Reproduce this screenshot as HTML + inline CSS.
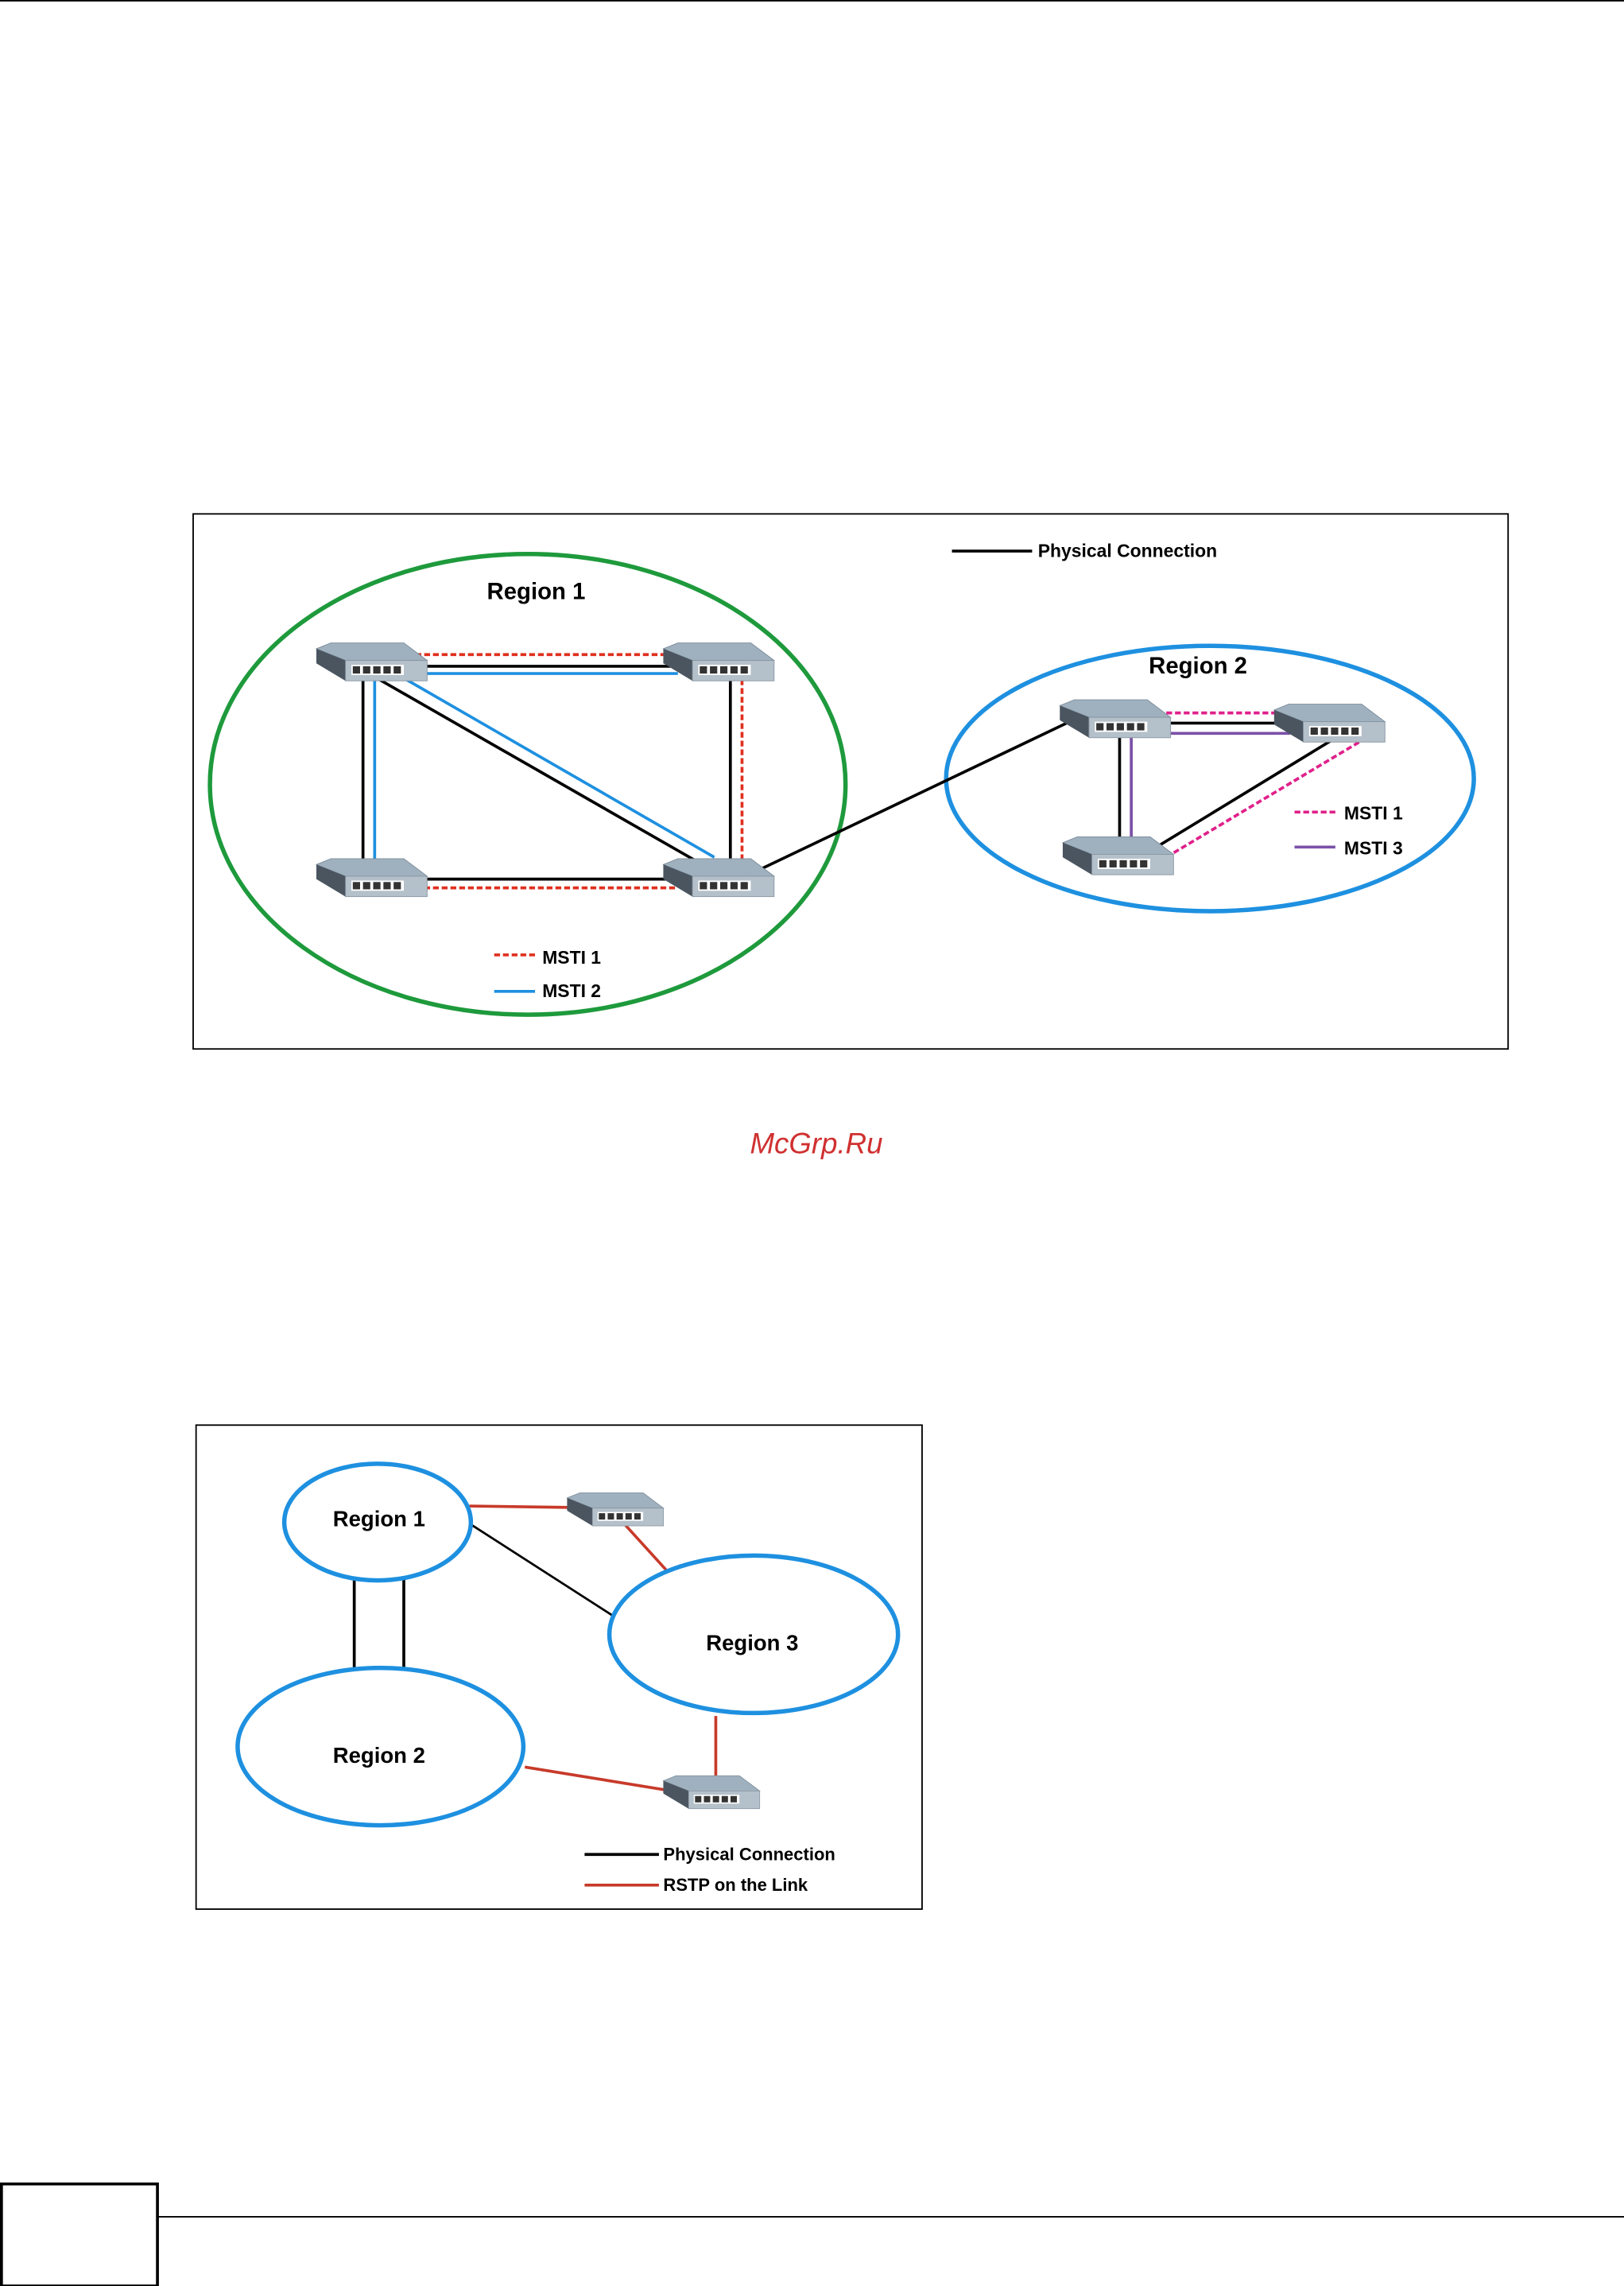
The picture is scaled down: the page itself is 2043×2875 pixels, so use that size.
<!DOCTYPE html>
<html><head><meta charset="utf-8"><style>
html,body{margin:0;padding:0;background:#fff;}
svg{display:block;}
text{font-family:"Liberation Sans",Arial,sans-serif;font-weight:bold;}
</style></head><body>
<svg width="2043" height="2875" viewBox="0 0 1114 1568" preserveAspectRatio="none" xmlns="http://www.w3.org/2000/svg">
<defs>
<g id="sw">
<polygon points="0,4 10,0 60,0 76,12 20,12" fill="#9fb0bf" stroke="#7d8d9a" stroke-width="0.5"/>
<polygon points="0,4 20,12 20,26 0,14" fill="#4a5560"/>
<rect x="20" y="12" width="56" height="14" fill="#b4c0ca" stroke="#8896a2" stroke-width="0.5"/>
<rect x="24" y="15" width="36" height="7" fill="#fff"/>
<rect x="25" y="16" width="5" height="5" fill="#333"/>
<rect x="32" y="16" width="5" height="5" fill="#333"/>
<rect x="39" y="16" width="5" height="5" fill="#333"/>
<rect x="46" y="16" width="5" height="5" fill="#333"/>
<rect x="53" y="16" width="5" height="5" fill="#333"/>
</g>
</defs>
<line x1="0" y1="0.5" x2="1114" y2="0.5" stroke="#000" stroke-width="1"/>

<rect x="132.5" y="352.5" width="902" height="367" fill="#fff" stroke="#000" stroke-width="1"/>
<ellipse cx="362" cy="538" rx="218" ry="158" fill="none" stroke="#1e9a3c" stroke-width="3"/>
<ellipse cx="830" cy="534" rx="181" ry="91" fill="none" stroke="#1e90e0" stroke-width="3"/>
<text x="334" y="411" font-size="16">Region 1</text>
<text x="788" y="462" font-size="16">Region 2</text>
<line x1="653" y1="378" x2="708" y2="378" stroke="#000" stroke-width="2"/>
<text x="712" y="382" font-size="12.5">Physical Connection</text>
<line x1="285" y1="449" x2="465" y2="449" stroke="#e03020" stroke-width="2" stroke-dasharray="4,2"/>
<line x1="285" y1="457" x2="465" y2="457" stroke="#000" stroke-width="2"/>
<line x1="285" y1="462" x2="465" y2="462" stroke="#1e90e0" stroke-width="2"/>
<line x1="249" y1="465" x2="249" y2="592" stroke="#000" stroke-width="2"/>
<line x1="257" y1="465" x2="257" y2="592" stroke="#1e90e0" stroke-width="2"/>
<line x1="501" y1="466" x2="501" y2="592" stroke="#000" stroke-width="2"/>
<line x1="509" y1="466" x2="509" y2="592" stroke="#e03020" stroke-width="2" stroke-dasharray="4,2"/>
<line x1="260" y1="466" x2="480" y2="592" stroke="#000" stroke-width="2"/>
<line x1="275" y1="464" x2="490" y2="588" stroke="#1e90e0" stroke-width="2"/>
<line x1="285" y1="603" x2="465" y2="603" stroke="#000" stroke-width="2"/>
<line x1="285" y1="609" x2="465" y2="609" stroke="#e03020" stroke-width="2" stroke-dasharray="4,2"/>
<line x1="520" y1="597" x2="740" y2="492" stroke="#000" stroke-width="2"/>
<line x1="800" y1="489" x2="880" y2="489" stroke="#e0208a" stroke-width="2" stroke-dasharray="4,2"/>
<line x1="800" y1="496" x2="880" y2="496" stroke="#000" stroke-width="2"/>
<line x1="800" y1="503" x2="885" y2="503" stroke="#7a50a8" stroke-width="2"/>
<line x1="768" y1="503" x2="768" y2="578" stroke="#000" stroke-width="2"/>
<line x1="776" y1="503" x2="776" y2="578" stroke="#7a50a8" stroke-width="2"/>
<line x1="795" y1="580" x2="918" y2="505" stroke="#000" stroke-width="2"/>
<line x1="800" y1="588" x2="934" y2="508" stroke="#e0208a" stroke-width="2" stroke-dasharray="4,2"/>
<use href="#sw" x="217" y="441"/>
<use href="#sw" x="455" y="441"/>
<use href="#sw" x="217" y="589"/>
<use href="#sw" x="455" y="589"/>
<use href="#sw" x="727" y="480"/>
<use href="#sw" x="874" y="483"/>
<use href="#sw" x="729" y="574"/>
<line x1="339" y1="655" x2="367" y2="655" stroke="#e03020" stroke-width="2" stroke-dasharray="4,2"/>
<text x="372" y="661" font-size="12.5">MSTI 1</text>
<line x1="339" y1="680" x2="367" y2="680" stroke="#1e90e0" stroke-width="2"/>
<text x="372" y="684" font-size="12.5">MSTI 2</text>
<line x1="888" y1="557" x2="916" y2="557" stroke="#e0208a" stroke-width="2" stroke-dasharray="4,2"/>
<text x="922" y="562" font-size="12.5">MSTI 1</text>
<line x1="888" y1="581" x2="916" y2="581" stroke="#7a50a8" stroke-width="2"/>
<text x="922" y="586" font-size="12.5">MSTI 3</text>

<text x="560" y="791" font-size="20" fill="#d03030" text-anchor="middle" style="font-style:italic;font-weight:normal">McGrp.Ru</text>

<rect x="134.5" y="977.5" width="498" height="332" fill="#fff" stroke="#000" stroke-width="1"/>
<line x1="243" y1="1082" x2="243" y2="1146" stroke="#000" stroke-width="2"/>
<line x1="277" y1="1082" x2="277" y2="1146" stroke="#000" stroke-width="2"/>
<line x1="322" y1="1045" x2="420" y2="1108" stroke="#000" stroke-width="1.5"/>
<line x1="322" y1="1033" x2="392" y2="1034" stroke="#c83a2a" stroke-width="2"/>
<line x1="428" y1="1045" x2="458" y2="1078" stroke="#c83a2a" stroke-width="2"/>
<line x1="360" y1="1212" x2="458" y2="1228" stroke="#c83a2a" stroke-width="2"/>
<line x1="491" y1="1177" x2="491" y2="1220" stroke="#c83a2a" stroke-width="2"/>
<ellipse cx="259" cy="1044" rx="64" ry="40" fill="#fff" stroke="#1e90e0" stroke-width="3"/>
<ellipse cx="261" cy="1198" rx="98" ry="54" fill="#fff" stroke="#1e90e0" stroke-width="3"/>
<ellipse cx="517" cy="1121" rx="99" ry="54" fill="#fff" stroke="#1e90e0" stroke-width="3"/>
<text x="260" y="1047" font-size="15" text-anchor="middle">Region 1</text>
<text x="260" y="1209" font-size="15" text-anchor="middle">Region 2</text>
<text x="516" y="1132" font-size="15" text-anchor="middle">Region 3</text>
<g transform="translate(389,1024) scale(0.87)"><use href="#sw"/></g>
<g transform="translate(455,1218) scale(0.87)"><use href="#sw"/></g>
<line x1="401" y1="1272" x2="452" y2="1272" stroke="#000" stroke-width="2"/>
<text x="455" y="1276" font-size="12">Physical Connection</text>
<line x1="401" y1="1293" x2="452" y2="1293" stroke="#c83a2a" stroke-width="2"/>
<text x="455" y="1297" font-size="12">RSTP on the Link</text>

<line x1="108" y1="1520.5" x2="1114" y2="1520.5" stroke="#000" stroke-width="1"/>
<rect x="1" y="1498" width="107" height="70" fill="none" stroke="#000" stroke-width="2"/>
</svg>
</body></html>
